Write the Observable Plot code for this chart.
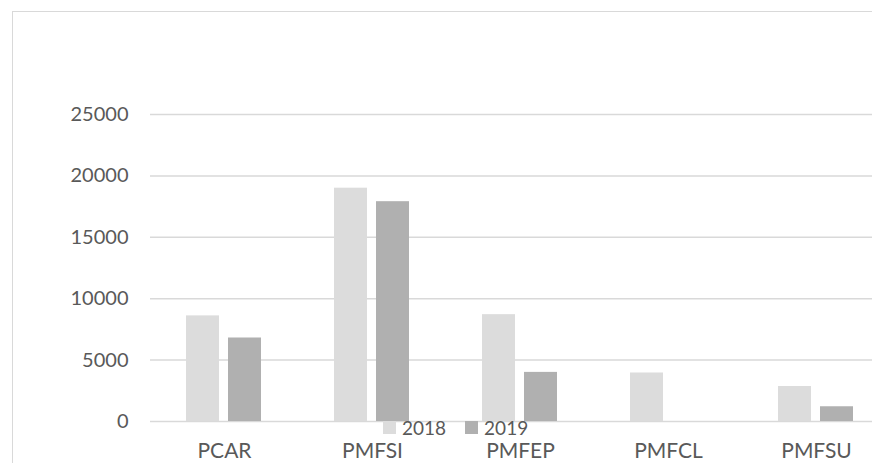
<!DOCTYPE html>
<html><head><meta charset="utf-8">
<script src="https://cdn.jsdelivr.net/npm/d3@7"></script>
<script src="https://cdn.jsdelivr.net/npm/@observablehq/plot@0.6"></script>
<style>
body{margin:0;background:#fff;overflow:hidden}
#wrap{position:relative;width:872px;height:463px;overflow:hidden;background:#fff}
#border{position:absolute;left:12px;top:11px;width:900px;height:520px;border:1.5px solid #d9d9d9;box-sizing:border-box}
#chart{position:absolute;left:0;top:0}
#chart svg{overflow:hidden}
#legend{position:absolute;left:383px;top:418px;font-family:Lato,sans-serif;font-size:19px;color:#595959;white-space:nowrap;line-height:17px;height:17px}
#legend .item{display:inline-flex;align-items:center;margin-right:19px;height:17px}
#legend .sw{display:inline-block;width:13px;height:13px;margin-right:6px}
</style></head><body>
<div id="wrap"><div id="border"></div><div id="chart"></div><div id="legend"></div></div>
<script>
const categories = ["PCAR", "PMFSI", "PMFEP", "PMFCL", "PMFSU"];
const years = ["2018", "2019"];
const values2018 = [8600, 19000, 8700, 3950, 2850];
const values2019 = [6800, 17900, 4000, 0, 1200];
const yTicks = [0, 5000, 10000, 15000, 20000, 25000];
const colors = ["#dcdcdc", "#b0b0b0"];

const data = categories.flatMap((c, i) => [
  {cat: c, year: years[0], value: values2018[i]},
  {cat: c, year: years[1], value: values2019[i]}
]);

const chart = Plot.plot({
  width: 872,
  height: 463,
  marginTop: 114,
  marginBottom: 42,
  marginLeft: 148,
  marginRight: -19,
  style: {fontFamily: "Lato, sans-serif", color: "#595959", background: "transparent"},
  fx: {domain: categories, padding: 0, label: null},
  x: {domain: years, paddingInner: 0.214, paddingOuter: 0.86, axis: null},
  y: {domain: [0, 25000], label: null},
  color: {domain: years, range: colors},
  marks: [
    Plot.ruleY(yTicks, {stroke: "#d9d9d9", strokeWidth: 1.5}),
    Plot.barY(data, {fx: "cat", x: "year", y: "value", fill: "year"}),
    Plot.axisY(yTicks, {tickSize: 0, tickPadding: 22, fontSize: 20, fill: "#595959", label: null, tickFormat: d => String(d)}),
    Plot.axisFx({anchor: "bottom", tickSize: 0, tickPadding: 22, fontSize: 21, fill: "#595959", label: null})
  ]
});
document.getElementById("chart").appendChild(chart);

const legend = document.getElementById("legend");
years.forEach((y, i) => {
  const item = document.createElement("span");
  item.className = "item";
  const sw = document.createElement("span");
  sw.className = "sw";
  sw.style.background = colors[i];
  item.appendChild(sw);
  item.appendChild(document.createTextNode(y));
  legend.appendChild(item);
});
</script>
</body></html>
